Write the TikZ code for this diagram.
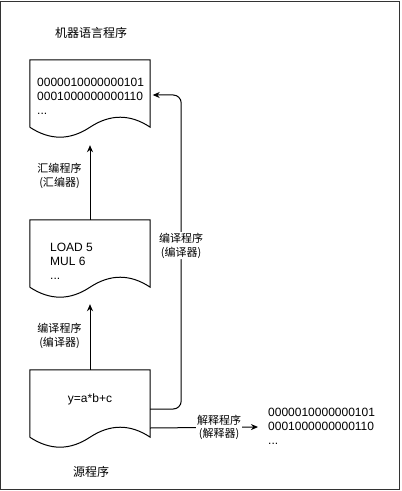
\documentclass[tikz,border=0pt]{standalone}
\usepackage{fontspec}
\setmainfont{Liberation Sans}
\newfontfamily\cjk{Noto Sans CJK SC}
\usetikzlibrary{arrows.meta,positioning}

\begin{document}
\begin{tikzpicture}[x=1bp,y=-1bp,
        doc/.style={minimum width=120bp,minimum height=67bp,inner sep=0pt},
        code/.style={align=left,inner sep=0pt,font=\fontsize{12bp}{14bp}\selectfont},
        lbl/.style={align=center,inner sep=1bp,fill=white,font=\cjk\fontsize{11bp}{13.5bp}\selectfont},
        title/.style={inner sep=0pt,font=\cjk\fontsize{12bp}{14bp}\selectfont},
        flow/.style={-{Stealth[length=7bp,width=6bp]},line width=1bp}]
    \useasboundingbox (0,0) rectangle (401,491);
    \draw[black!80] (0.5,1) rectangle (399.5,489.5);
    % the three documents
    \foreach \nm/\y in {mach/93.5,asm/253.5,src/403.5}{
        \node[doc] (\nm) at (90,\y) {};
        \draw[line width=1bp] (\nm.south west) -- (\nm.north west) -- (\nm.north east) -- (\nm.south east)
            .. controls ([shift={(-20,-13.3)}]\nm.south east) and ([shift={(-40,-13.3)}]\nm.south east) .. (\nm.south)
            .. controls ([shift={(-20,13.3)}]\nm.south) and ([shift={(-40,13.3)}]\nm.south) .. (\nm.south west);
    }
    \node[code,anchor=west] (machtxt) at (37,96) {0000010000000101\\0001000000000110\\...};
    \node[code,anchor=west] (asmtxt) at (50,261) {LOAD 5\\MUL 6\\...};
    \node[code] (srctxt) at (90,399) {y=a*b+c};
    \node[code,anchor=west] (out) at (268,426) {0000010000000101\\0001000000000110\\...};
    \node[title] (machname) at (91,33) {机器语言程序};
    \node[title] (srcname) at (91,472) {源程序};
    % arrows
    \draw[flow] (asm.north) -- ([shift={(0,18)}]mach.south)
        node[lbl,fill=none,pos=0.59,left=7bp] {汇编程序\\(汇编器)};
    \draw[flow] (src.north) -- ([shift={(0,17)}]asm.south)
        node[lbl,fill=none,pos=0.52,left=7bp] {编译程序\\(编译器)};
    \draw[flow,rounded corners=8bp] ([shift={(0,5.5)}]src.east) -- ++(31,0) |- ([shift={(2.5,1.5)}]mach.east)
        node[lbl,pos=0.26] {编译程序\\(编译器)};
    \draw[flow] ([shift={(0,24.5)}]src.east) -- ([shift={(-10,1)}]out.west)
        node[lbl,pos=0.64] {解释程序\\(解释器)};
\end{tikzpicture}
\end{document}
